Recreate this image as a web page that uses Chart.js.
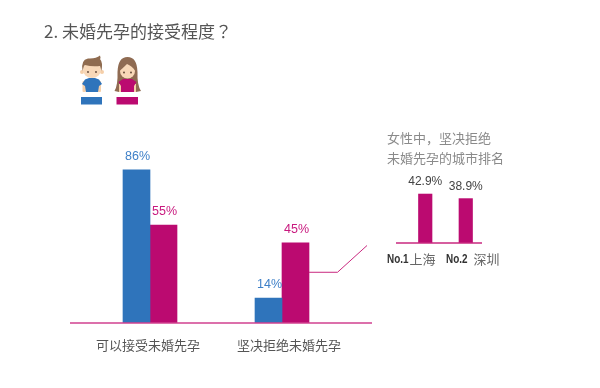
<!DOCTYPE html>
<html>
<head>
<meta charset="utf-8">
<script src="https://cdn.jsdelivr.net/npm/chart.js@4"></script>
<style>
    html, body { margin: 0; padding: 0; background: #fff; }
    body { width: 600px; height: 388px; position: relative; overflow: hidden; font-family: "Noto Sans CJK SC", sans-serif; }
    canvas { position: absolute; left: 0; top: 0; }
    .txt { position: absolute; white-space: nowrap; }
    #title { left: 44px; top: 19px; font-size: 17px; line-height: 24px; color: #555; }
    #title span { font-family: "Noto Sans CJK TC", sans-serif; }
    #note { left: 387px; top: 128px; font-size: 13px; line-height: 20px; color: #8a8a8a; }
    #icons { position: absolute; left: 70px; top: 50px; }
</style>
</head>
<body>
<canvas id="mainChart" width="600" height="388"></canvas>
<canvas id="cityChart" width="600" height="388"></canvas>
<div class="txt" id="title">2. 未婚先孕的接受程度<span>？</span></div>
<div class="txt" id="note">女性中，坚决拒绝<br>未婚先孕的城市排名</div>
<svg id="icons" width="80" height="60" viewBox="70 50 80 60">
    <!-- 男 -->
    <rect x="82.5" y="81" width="3.5" height="11" rx="1" fill="#f5cfa9"/>
    <rect x="97.5" y="81" width="3.5" height="11" rx="1" fill="#f5cfa9"/>
    <path d="M82 84 L85 79.5 L89 78 L95 78 L99 79.5 L102 84 L99 86 L98 92 L86 92 L85 86Z" fill="#2f74bb"/>
    <circle cx="82" cy="72" r="2" fill="#f5cfa9"/>
    <circle cx="102" cy="72" r="2" fill="#f5cfa9"/>
    <ellipse cx="92" cy="70" rx="9" ry="8" fill="#f8d8b8"/>
    <path d="M82.5 71 Q80.5 60 88 58.5 Q96 59 100 55.5 Q101 58 100 59 Q103 62 101.5 71 L100 66 Q92 67 85 65 L84 66Z" fill="#8f6b4f"/>
    <circle cx="88" cy="72" r="0.9" fill="#5a4030"/>
    <circle cx="96" cy="72" r="0.9" fill="#5a4030"/>
    <rect x="81" y="97" width="21" height="7.5" fill="#2f74bb"/>
    <!-- 女 -->
    <path d="M114.5 91 Q118 85 117.5 72 Q118 57 127.5 57 Q137 57 137.5 72 Q137 85 141 91 L136 92 L119 92Z" fill="#8f6b52"/>
    <rect x="119" y="84" width="3" height="8" fill="#f5cfa9"/>
    <rect x="133" y="84" width="3" height="8" fill="#f5cfa9"/>
    <path d="M118.5 82 L123 79 L132 79 L136.5 82 L134 86 L134 92 L121 92 L121 86Z" fill="#bb0a70"/>
    <ellipse cx="127.5" cy="71" rx="7.5" ry="7.5" fill="#f8d8b8"/>
    <path d="M119.5 71 Q120 60.5 127.5 60.5 Q135 60.5 135.5 71 Q132 66 127 64 Q123 68 119.5 71Z" fill="#8f6b52"/>
    <circle cx="124" cy="72.5" r="0.9" fill="#5a4030"/>
    <circle cx="131" cy="72.5" r="0.9" fill="#5a4030"/>
    <rect x="116.5" y="97" width="21.5" height="7.5" fill="#bb0a70"/>
</svg>

<script>
const categories = ['可以接受未婚先孕', '坚决拒绝未婚先孕'];
const maleValues = [86, 14];
const femaleValues = [55, 45];

const cityNames = ['上海', '深圳'];
const cityRanks = ['No.1', 'No.2'];
const cityValues = [42.9, 38.9];

const BLUE = '#2f74bb';
const MAGENTA = '#bb0a70';
const FONT = '"Noto Sans CJK SC", sans-serif';
const LABEL_FONT = 'Arial, "Liberation Sans", sans-serif';

// 막대 위 숫자 + 기준선
const valueLabels = {
    id: 'valueLabels',
    afterDatasetsDraw(chart, args, opts) {
        const { ctx } = chart;
        chart.data.datasets.forEach((dataset, i) => {
            chart.getDatasetMeta(i).data.forEach((bar, index) => {
                ctx.fillStyle = dataset.labelColor;
                ctx.font = opts.font;
                ctx.textAlign = 'center';
                ctx.textBaseline = 'middle';
                ctx.fillText(dataset.data[index] + '%', bar.x + opts.shift, bar.y - opts.gap);
            });
        });
        const y = chart.scales.y.getPixelForValue(0);
        ctx.strokeStyle = opts.lineColor;
        ctx.lineWidth = 1.4;
        ctx.beginPath();
        ctx.moveTo(opts.lineFrom, y);
        ctx.lineTo(opts.lineTo, y);
        ctx.stroke();
    }
};

// 카테고리 라벨 + 45% 막대에서 오른쪽 작은 차트로 가는 선
const mainExtras = {
    id: 'mainExtras',
    afterDatasetsDraw(chart) {
        const { ctx } = chart;
        const bar = chart.getDatasetMeta(1).data[1];
        const y = chart.scales.y.getPixelForValue(28.5);
        ctx.strokeStyle = '#c9287f';
        ctx.lineWidth = 1;
        ctx.beginPath();
        ctx.moveTo(bar.x + 13.5, y);
        ctx.lineTo(337.5, y);
        ctx.lineTo(367, 245.5);
        ctx.stroke();

        const shift = [-2, 7];
        ctx.fillStyle = '#555';
        ctx.font = '13px ' + FONT;
        ctx.textAlign = 'center';
        ctx.textBaseline = 'middle';
        categories.forEach((name, i) => {
            ctx.fillText(name, chart.scales.x.getPixelForValue(i) + shift[i], 345);
        });
    }
};

// No.1 上海 식 라벨
const cityLabels = {
    id: 'cityLabels',
    afterDatasetsDraw(chart) {
        const { ctx } = chart;
        const rankX = [387, 446];
        const nameX = [409.5, 473.5];
        cityNames.forEach((name, i) => {
            ctx.textBaseline = 'middle';
            ctx.textAlign = 'left';
            ctx.fillStyle = '#333';
            ctx.font = 'bold 13px ' + LABEL_FONT;
            ctx.fillText(cityRanks[i], rankX[i], 259, 21.5); // 폭을 좁혀서 그림
            ctx.fillStyle = '#666';
            ctx.font = '13px ' + FONT;
            ctx.fillText(name, nameX[i], 259);
        });
    }
};

new Chart(document.getElementById('mainChart').getContext('2d'), {
    type: 'bar',
    data: {
        labels: categories,
        datasets: [{
            label: '男性',
            data: maleValues,
            backgroundColor: BLUE,
            labelColor: '#3f80c8',
            barThickness: 27
        }, {
            label: '女性',
            data: femaleValues,
            backgroundColor: MAGENTA,
            labelColor: '#c8197e',
            barThickness: 27
        }]
    },
    options: {
        responsive: false,
        animation: false,
        layout: { padding: { left: 84, right: 252, top: 145, bottom: 65 } },
        scales: {
            x: { display: false },
            y: { display: false, min: 0, max: 100 }
        },
        plugins: {
            legend: { display: false },
            tooltip: { enabled: false },
            valueLabels: { font: '12.5px ' + LABEL_FONT, gap: 13.5, shift: 1, lineColor: '#d0408f', lineFrom: 70, lineTo: 372 }
        }
    },
    plugins: [valueLabels, mainExtras]
});

new Chart(document.getElementById('cityChart').getContext('2d'), {
    type: 'bar',
    data: {
        labels: cityNames,
        datasets: [{
            label: '女性',
            data: cityValues,
            backgroundColor: MAGENTA,
            labelColor: '#444',
            barThickness: 13.5
        }]
    },
    options: {
        responsive: false,
        animation: false,
        layout: { padding: { left: 405, right: 114, top: 154, bottom: 145 } },
        scales: {
            x: { display: false },
            y: { display: false, min: 0, max: 78 }
        },
        plugins: {
            legend: { display: false },
            tooltip: { enabled: false },
            valueLabels: { font: '12px ' + LABEL_FONT, gap: 12, shift: 0, lineColor: '#c9287f', lineFrom: 396, lineTo: 482 }
        }
    },
    plugins: [valueLabels, cityLabels]
});
</script>
</body>
</html>
